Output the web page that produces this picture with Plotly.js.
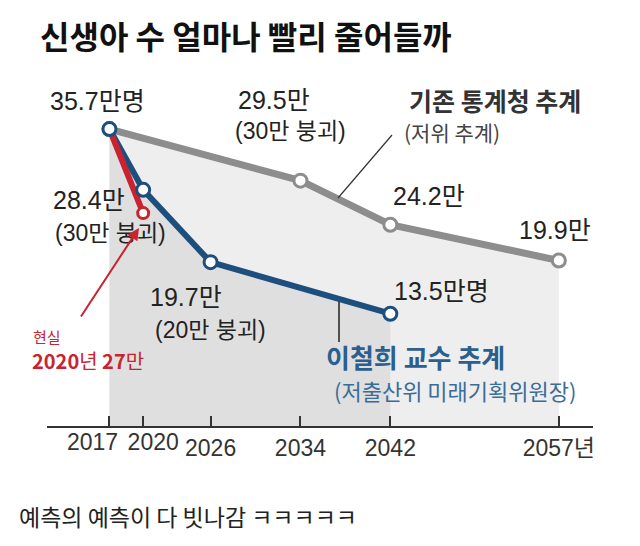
<!DOCTYPE html>
<html>
<head>
<meta charset="utf-8">
<script src="https://cdn.plot.ly/plotly-3.0.1.min.js"></script>
<style>html,body{margin:0;padding:0;background:#fff;}#chart{width:640px;height:546px;}</style>
</head>
<body>
<div id="chart"></div>
<script>
// ---- data ----
const grayYears = [2017, 2034, 2042, 2057];
const grayValues = [35.7, 29.5, 24.2, 19.9];
const blueYears = [2017, 2020, 2026, 2042];
const blueValues = [35.7, 28.4, 19.7, 13.5];
const redYears = [2017, 2020];
const redValues = [35.7, 25.6];
const tickYears = [2017, 2020, 2026, 2034, 2042, 2057];
const tickLabels = ['2017', '2020', '2026', '2034', '2042', '2057년'];

// ---- layout geometry ----
const W = 640, H = 546;
const M = {l: 47, r: 47, t: 80, b: 120};
const pw = W - M.l - M.r, ph = H - M.t - M.b;
const px = x => (x - M.l) / pw;          // page px -> paper x
const py = y => (H - M.b - y) / ph;      // page px -> paper y
const XR = [2011.44, 2060.04];

const NUM = '"Liberation Sans", Arial, "Noto Sans CJK KR", sans-serif';
const KR = '"Noto Sans CJK KR", sans-serif';

const GRAY = '#8d8d8d', BLUE = '#1d4f7e', RED = '#c9232f';

const traces = [
  {x: grayYears, y: grayValues, mode: 'lines', fill: 'tozeroy', fillcolor: '#eeeeee',
   line: {width: 0, color: 'rgba(0,0,0,0)'}, hoverinfo: 'skip', showlegend: false},
  {x: blueYears, y: blueValues, mode: 'lines', fill: 'tozeroy', fillcolor: '#dfdfdf',
   line: {width: 0, color: 'rgba(0,0,0,0)'}, hoverinfo: 'skip', showlegend: false},
  {x: grayYears, y: grayValues, mode: 'lines+markers', line: {color: GRAY, width: 7},
   marker: {size: 13, color: '#fff', line: {color: GRAY, width: 3}}, showlegend: false},
  {x: blueYears, y: blueValues, mode: 'lines', line: {color: BLUE, width: 6}, showlegend: false},
  {x: redYears, y: redValues, mode: 'lines+markers', line: {color: RED, width: 6},
   marker: {size: 11, color: '#fff', opacity: [0, 1], line: {color: RED, width: 3}}, showlegend: false},
  {x: blueYears, y: blueValues, mode: 'markers',
   marker: {size: 13, color: '#fff', line: {color: BLUE, width: 3}}, showlegend: false},
  // empty traces so the two helper axes (shifted tick labels for 2017 / 2020) are drawn
  {x: [], y: [], xaxis: 'x2', mode: 'markers', showlegend: false, hoverinfo: 'skip'},
  {x: [], y: [], xaxis: 'x3', mode: 'markers', showlegend: false, hoverinfo: 'skip'}
];

function lab(x, y, text, size, color, family, opts) {
  return Object.assign({xref: 'paper', yref: 'paper', x: px(x), y: py(y), text: text,
    showarrow: false, xanchor: 'center', yanchor: 'middle',
    font: {family: family || NUM, size: size, color: color}}, opts || {});
}

const annotations = [
  lab(97, 101, '35.7만명', 25, '#222'),
  lab(274, 100, '29.5만', 25, '#222'),
  lab(290, 131, '(30만 붕괴)', 23, '#222'),
  lab(495, 100, '<b>기존 통계청 추계</b>', 25, '#333', KR),
  lab(452, 132, '(저위 추계)', 21, '#444', KR),
  lab(429, 196, '24.2만', 25, '#222'),
  lab(555, 230, '19.9만', 25, '#222'),
  lab(89, 200, '28.4만', 25, '#222'),
  lab(110, 233, '(30만 붕괴)', 23, '#222'),
  lab(186, 297, '19.7만', 25, '#222'),
  lab(210, 330, '(20만 붕괴)', 23, '#222'),
  lab(441, 291, '13.5만명', 25, '#222'),
  lab(415, 356, '<b>이철희 교수 추계</b>', 26, '#2b5f8e', KR),
  lab(455, 390, '(저출산위 미래기획위원장)', 22, '#3b6c98', KR),
  lab(47, 336, '현실', 15, RED, KR),
  lab(88, 360, '<b>2020</b>년 <b>27</b>만', 20, RED, KR),
  lab(17, 516, '예측의 예측이 다 빗나감 ㅋㅋㅋㅋㅋ', 23, '#222', KR, {xanchor: 'left'}),
  // red arrow
  {xref: 'paper', yref: 'paper', x: px(139), y: py(228), ax: -59, ay: 90, axref: 'pixel', ayref: 'pixel',
   text: '', showarrow: true, arrowhead: 2, arrowsize: 1.2, arrowwidth: 2, arrowcolor: RED}
];

const shapes = [
  {type: 'line', xref: 'paper', yref: 'paper', x0: px(392), y0: py(135), x1: px(338), y1: py(198),
   line: {color: '#333', width: 1.2}},
  {type: 'line', xref: 'paper', yref: 'paper', x0: px(339), y0: py(302), x1: px(339), y1: py(342),
   line: {color: '#222', width: 1.5}}
];

const tickFont = {family: NUM, size: 23, color: '#333'};
const helperAxis = (val, text, shift) => ({
  range: XR, overlaying: 'x', anchor: 'y', side: 'bottom',
  tickvals: [val], ticktext: [text], ticks: '', tickangle: 0,
  ticklabelshift: shift, ticklabelstandoff: 0,
  showline: false, showgrid: false, zeroline: false, tickfont: tickFont, fixedrange: true
});

const layout = {
  width: W, height: H,
  margin: M,
  paper_bgcolor: '#fff', plot_bgcolor: '#fff',
  title: {text: '<b>신생아 수 얼마나 빨리 줄어들까</b>', x: 40 / W, xanchor: 'left', xref: 'container',
          y: 1 - 38 / H, yanchor: 'middle', yref: 'container',
          font: {family: KR, size: 32, color: '#111'}},
  xaxis: {range: XR, tickvals: tickYears, ticktext: tickLabels.map((t, i) => i < 2 ? '' : t),
          ticks: 'inside', ticklen: 10, tickwidth: 2, tickcolor: '#333', tickangle: 0,
          ticklabelstandoff: 0,
          showline: true, linecolor: '#333', linewidth: 2, showgrid: false, zeroline: false,
          tickfont: tickFont, fixedrange: true},
  xaxis2: helperAxis(tickYears[0], tickLabels[0], -17),
  xaxis3: helperAxis(tickYears[1], tickLabels[1], 10),
  yaxis: {range: [0, 41.6], visible: false, showgrid: false, zeroline: false, fixedrange: true},
  annotations: annotations,
  shapes: shapes,
  showlegend: false
};

Plotly.newPlot('chart', traces, layout, {displayModeBar: false, staticPlot: true});
</script>
</body>
</html>
